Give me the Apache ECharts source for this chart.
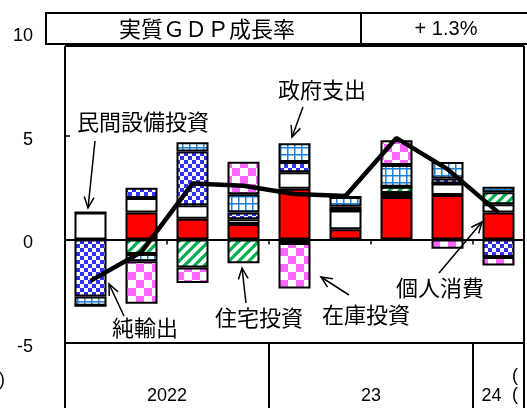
<!DOCTYPE html>
<html><head><meta charset="utf-8">
<script src="https://cdn.jsdelivr.net/npm/echarts@6/dist/echarts.min.js"></script>
<style>html,body{margin:0;padding:0;background:#fff}#c{width:527px;height:408px}</style>
</head><body><div id="c"></div>
<script>
// ---- data (annualized contributions, % points) ----
const categories = ['2022Q1','2022Q2','2022Q3','2022Q4','2023Q1','2023Q2','2023Q3','2023Q4','2024Q1'];
const consumption = [0, 1.3, 1.0, 0.75, 2.45, 0.5, 2.05, 2.15, 1.3];
const capex       = [1.3, 0.7, 0.65, 0.23, 0.8, 0.9, 0.2, 0.55, 0.4];
const housing     = [0, -0.7, -1.35, -1.15, -0.17, 0, 0.3, 0, 0.58];
const netExports  = [-2.75, 0.5, 2.6, 0.33, 0.5, 0.2, 0, 0.25, -0.85];
const government  = [-0.45, -0.35, 0.45, 0.87, 0.9, 0.45, 1.05, 0.8, 0.27];
const inventory   = [0, -2.05, -0.75, 1.58, -2.2, 0, 1.2, -0.45, -0.4];
const gdp         = [-2.0, -0.6, 2.7, 2.6, 2.2, 2.1, 4.9, 3.4, 1.3];
const yTicks      = [-5, 0, 5, 10];
const yearLabels  = ['2022', '23', '24'];
const yearStart   = [0, 4, 8];
const yearEnd     = [3, 7, 8];
const titleText   = '実質ＧＤＰ成長率';
const titleValue  = '+ 1.3%';

// ---- fill patterns ----
function pat(w, h, draw) {
  const c = document.createElement('canvas'); c.width = w; c.height = h;
  const g = c.getContext('2d'); g.fillStyle = '#fff'; g.fillRect(0, 0, w, h); draw(g);
  return { image: c, repeat: 'repeat' };
}
const fillRed = '#FF0000';
const fillWhite = '#FFFFFF';
const fillGreen = pat(10, 10, g => {
  g.strokeStyle = '#00B050'; g.lineWidth = 3.2;
  [[-10, 10, 10, -10], [0, 10, 10, 0], [0, 20, 20, 0]].forEach(l => { g.beginPath(); g.moveTo(l[0], l[1]); g.lineTo(l[2], l[3]); g.stroke(); });
});
const fillBlueCheck = pat(8, 8, g => { g.fillStyle = '#3030F8'; g.fillRect(0, 0, 4, 4); g.fillRect(4, 4, 4, 4); });
const fillGrid = pat(7, 7, g => { g.fillStyle = '#1E7FD6'; g.fillRect(0, 0, 7, 1.5); g.fillRect(0, 0, 1.5, 7); });
const fillPink = pat(16, 16, g => { g.fillStyle = '#FF66FF'; g.fillRect(0, 0, 8, 8); g.fillRect(8, 8, 8, 8); });

const chart = echarts.init(document.getElementById('c'), null, { renderer: 'canvas' });
function barSeries(name, data, color) {
  return { name, type: 'bar', stack: 'gdp', data, barWidth: 32,
    itemStyle: { color, borderColor: '#000', borderWidth: 2 }, z: 2 };
}
chart.setOption({
  animation: false,
  grid: { left: 65, right: 3, top: 32.5, bottom: 65 },
  xAxis: { type: 'category', data: categories, boundaryGap: true,
    axisLine: { onZero: true, lineStyle: { color: '#000', width: 2 } },
    axisTick: { show: true, length: 5, lineStyle: { color: '#000', width: 1.5 } },
    axisLabel: { show: false }, splitLine: { show: false } },
  yAxis: { type: 'value', min: -5, max: 10, interval: 5,
    axisLine: { show: false },
    axisTick: { show: true, inside: true, length: 5, lineStyle: { color: '#000', width: 1.5 } },
    axisLabel: { show: false },
    splitLine: { show: false } },
  series: [
    barSeries('個人消費', consumption, fillRed),
    barSeries('民間設備投資', capex, fillWhite),
    barSeries('住宅投資', housing, fillGreen),
    barSeries('純輸出', netExports, fillBlueCheck),
    barSeries('政府支出', government, fillGrid),
    barSeries('在庫投資', inventory, fillPink),
    { name: '実質GDP', type: 'line', data: gdp, symbol: 'none', z: 10,
      lineStyle: { color: '#000', width: 4.5 } }
  ]
});

// ---- frame, labels and annotations ----
const px = i => chart.convertToPixel({ xAxisIndex: 0 }, categories[i]);
const py = v => chart.convertToPixel({ yAxisIndex: 0 }, v);
const half = (px(1) - px(0)) / 2;
const left = px(0) - half, right = px(categories.length - 1) + half;
const yBot = py(-5);
const frameTop = 46, H = 408;
const cjk = '22px "Noto Sans CJK JP"';
const g = [];
function line(x1, y1, x2, y2, w) { g.push({ type: 'line', z: 50, shape: { x1, y1, x2, y2 }, style: { stroke: '#000', lineWidth: w || 2 } }); }
function text(t, x, y, font, align) { g.push({ type: 'text', z: 60, style: { text: t, x, y, font, fill: '#000', textAlign: align || 'center', textVerticalAlign: 'middle' } }); }
function arrow(x1, y1, x2, y2) {
  const a = Math.atan2(y2 - y1, x2 - x1), L = 12, s = 0.42;
  g.push({ type: 'line', z: 60, shape: { x1, y1, x2, y2 }, style: { stroke: '#000', lineWidth: 1.5 } });
  g.push({ type: 'polyline', z: 60, shape: { points: [[x2 - L * Math.cos(a - s), y2 - L * Math.sin(a - s)], [x2, y2], [x2 - L * Math.cos(a + s), y2 - L * Math.sin(a + s)]] },
    style: { stroke: '#000', lineWidth: 1.5, fill: null } });
}
// y tick labels (from the y scale, drawn slightly below each tick as in the original)
yTicks.forEach(v => text(String(v), left - 32, py(v) + 4, '18px "Liberation Sans"', 'right'));
// plot frame
line(left, frameTop, left, H + 2);
line(right, frameTop, right, H + 2);
line(left, frameTop, right, frameTop);
line(left, yBot, right, yBot);
// year separators & labels
for (let k = 1; k < yearLabels.length; k++) {
  const xb = (px(yearStart[k]) + px(yearStart[k] - 1)) / 2; line(xb, yBot, xb, H + 2);
}
text(yearLabels[0], (px(yearStart[0]) + px(yearEnd[0])) / 2, 396, '18px "Liberation Sans"');
text(yearLabels[1], (px(yearStart[1]) + px(yearEnd[1])) / 2, 396, '18px "Liberation Sans"');
text(yearLabels[2], px(yearStart[2]) - 7, 396, '18px "Liberation Sans"');
text('(', 512, 376, '18px "Liberation Sans"', 'left');
text('(', 512, 395, '18px "Liberation Sans"', 'left');
text(')', -1, 380, '18px "Liberation Sans"', 'left');
// title box
g.push({ type: 'rect', z: 40, shape: { x: 46, y: 13, width: 490, height: 31 }, style: { fill: '#fff', stroke: '#000', lineWidth: 2 } });
line(361, 13, 361, 44);
text(titleText, 207, 29, '22px "Noto Sans CJK JP"');
text(titleValue, 446, 29, '20px "Liberation Sans"');
// annotations
text('民間設備投資', 143, 122, cjk); arrow(95, 141, 88, 208);
text('政府支出', 322, 90, cjk); arrow(303, 107, 292, 137);
text('純輸出', 145, 328, cjk); arrow(124, 316, 109, 284);
text('住宅投資', 259, 318, cjk); arrow(246, 303, 242, 268);
text('在庫投資', 366, 315, cjk); arrow(349, 295, 321, 277);
text('個人消費', 440, 288, cjk); arrow(439, 273, 482, 222);
chart.setOption({ graphic: { elements: g } });
</script></body></html>
